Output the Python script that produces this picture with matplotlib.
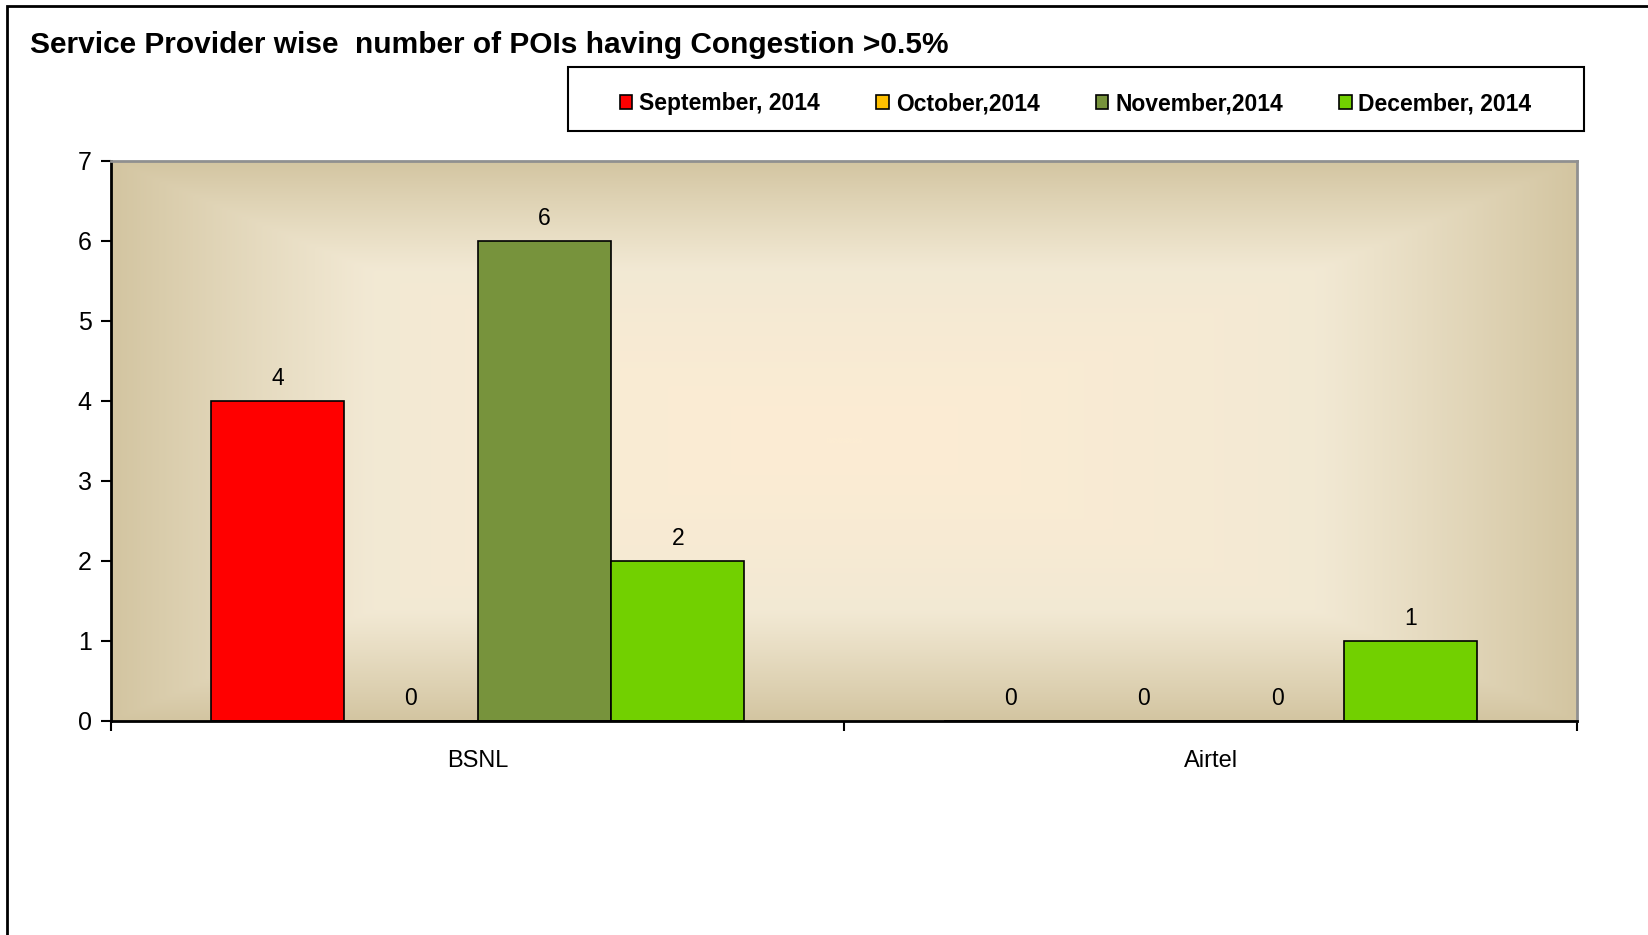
import numpy as np
import matplotlib.pyplot as plt
from matplotlib.patches import Rectangle
from matplotlib.colors import LinearSegmentedColormap

providers = ['BSNL', 'Airtel']
months = ['September, 2014', 'October,2014', 'November,2014', 'December, 2014']
sep_2014 = [4, 0]
oct_2014 = [0, 0]
nov_2014 = [6, 0]
dec_2014 = [2, 1]
colors = ['#ff0000', '#ffc000', '#77933c', '#72d000']

plt.rcParams['font.family'] = ['Liberation Sans', 'DejaVu Sans']

fig = plt.figure(figsize=(16.48, 9.35), dpi=100)
ax = fig.add_axes([0.0674, 0.229, 0.8896, 0.599])

# beige rectangular gradient background
n = 300
xx, yy = np.meshgrid(np.linspace(-1, 1, n), np.linspace(-1, 1, n))
d = np.maximum(np.abs(xx) ** 1.6, np.abs(yy) ** 1.4)
cmap = LinearSegmentedColormap.from_list('bg', ['#fcecd3', '#f2e9d4', '#d3c5a1'])
ax.imshow(d, cmap=cmap, extent=[0, 1, 0, 1], transform=ax.transAxes,
          aspect='auto', zorder=0, interpolation='bicubic')

x = np.arange(len(providers))
w = 0.182
series = [sep_2014, oct_2014, nov_2014, dec_2014]
for i, (vals, c, lab) in enumerate(zip(series, colors, months)):
    pos = x + (i - 1.5) * w
    ax.bar(pos, vals, w, color=c, edgecolor='black', linewidth=1.2,
           label=lab, zorder=2)
    for p, v in zip(pos, vals):
        ax.text(p, v + 0.13, str(v), ha='center', va='bottom', fontsize=16.5)

ax.set_xlim(-0.5, 1.5)
ax.set_ylim(0, 7)
ax.set_yticks(range(8))
ax.set_xticks([-0.5, 0.5, 1.5])
ax.set_xticklabels([])
ax.set_xticks(x, minor=True)
ax.set_xticklabels(providers, minor=True, fontsize=17)
ax.tick_params(axis='x', which='minor', length=0, pad=21)
ax.tick_params(axis='x', which='major', length=7, width=1.5, direction='out')
ax.tick_params(axis='y', length=7, width=1.5, labelsize=18, pad=7)
ax.spines['left'].set_linewidth(2)
ax.spines['bottom'].set_linewidth(2)
ax.spines['top'].set_color('#909090')
ax.spines['right'].set_color('#909090')
ax.spines['top'].set_linewidth(2)
ax.spines['right'].set_linewidth(2)

fig.text(0.018, 0.952, 'Service Provider wise  number of POIs having Congestion >0.5%',
         fontsize=21.5, fontweight='bold', va='center', ha='left')

leg = fig.legend(loc='center', bbox_to_anchor=(0.6527, 0.8893), ncol=4,
                 prop={'weight': 'bold', 'size': 16.5}, frameon=False,
                 handlelength=0.55, handleheight=0.55,
                 handletextpad=0.3, columnspacing=2.45)

# legend box
fig.patches.append(Rectangle((568 / 1648, 1 - 131 / 935), 1016 / 1648, 64 / 935,
                             transform=fig.transFigure, fill=False,
                             edgecolor='black', linewidth=1.5))

# outer chart frame
fig.patches.append(Rectangle((0.0045, -0.1), 1.2, 1.094, transform=fig.transFigure,
                             fill=False, edgecolor='black', linewidth=2))

fig.savefig('out.png', dpi=100)
